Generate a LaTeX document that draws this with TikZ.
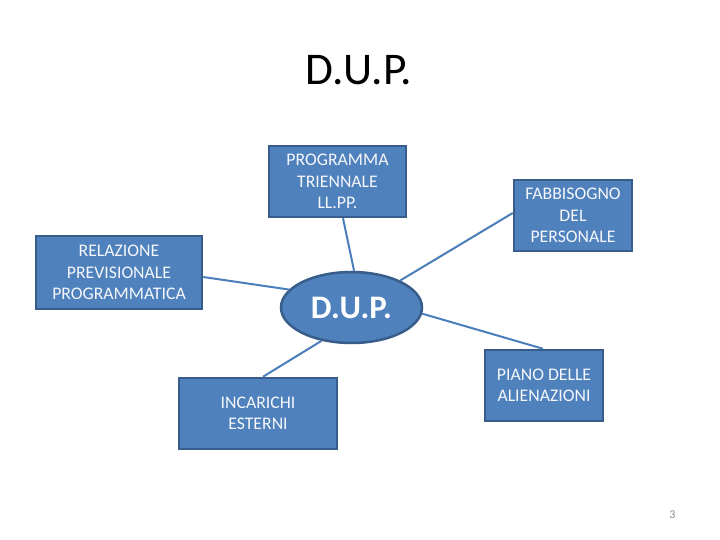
\documentclass[tikz,border=0pt]{standalone}
\usepackage{fontspec}
\setmainfont{Carlito}
\usetikzlibrary{shapes.geometric,calc}
\definecolor{boxfill}{HTML}{4F81BD}
\definecolor{boxline}{HTML}{385D8A}
\definecolor{conn}{HTML}{4A7EBB}
\definecolor{pagegray}{HTML}{8A8A8A}
\tikzset{
  box/.style={draw=boxline, fill=boxfill, line width=2.5bp, text=white!94!boxfill,
    font=\fontsize{17.8}{21.5}\selectfont, align=center, inner sep=0pt},
  hub/.style={ellipse, draw=boxline, fill=boxfill, line width=2.5bp, text=white,
    font=\bfseries\fontsize{33}{38}\selectfont, inner sep=0pt,
    minimum width=141bp, minimum height=71bp},
  link/.style={draw=conn, line width=2bp}
}
\begin{document}
\begin{tikzpicture}[x=1bp,y=-1bp]
\useasboundingbox[fill=white] (0,0) rectangle (720,540);
\node[font=\fontsize{45.5}{50}\selectfont] (title) at (359,70) {D.U.P.};
\node[box, minimum width=137bp, minimum height=71bp] (prog) at (337.5,181.5) {PROGRAMMA\\TRIENNALE\\LL.PP.};
\node[box, minimum width=166bp, minimum height=73bp] (rel) at (119,272.5) {RELAZIONE\\PREVISIONALE\\PROGRAMMATICA};
\node[box, minimum width=158bp, minimum height=71bp] (inc) at (258,413.5) {INCARICHI\\ESTERNI};
\node[box, minimum width=118bp, minimum height=71bp] (fab) at (573,215.5) {FABBISOGNO\\DEL\\PERSONALE};
\node[box, minimum width=118bp, minimum height=71bp] (pia) at (544,385.5) {PIANO DELLE\\ALIENAZIONI};
\node[hub] (dup) at (351.5,307.5) {\raisebox{-1.5bp}{D.U.P.}};
\draw[link] ($(prog.south)+(5.5,0)$) -- (dup.86);
\draw[link] ($(rel.east)+(0,4.5)$) -- (dup.164.8);
\draw[link] ($(inc.north)+(5,0)$) -- (dup.228.4);
\draw[link] ($(fab.west)+(0,-2.5)$) -- (dup.29.8);
\draw[link] ($(pia.north)+(-1,0)$) -- (dup.-5.2);
\node[text=pagegray, font=\fontsize{12}{14}\selectfont] (page) at (672.5,514.5) {3};
\end{tikzpicture}
\end{document}
